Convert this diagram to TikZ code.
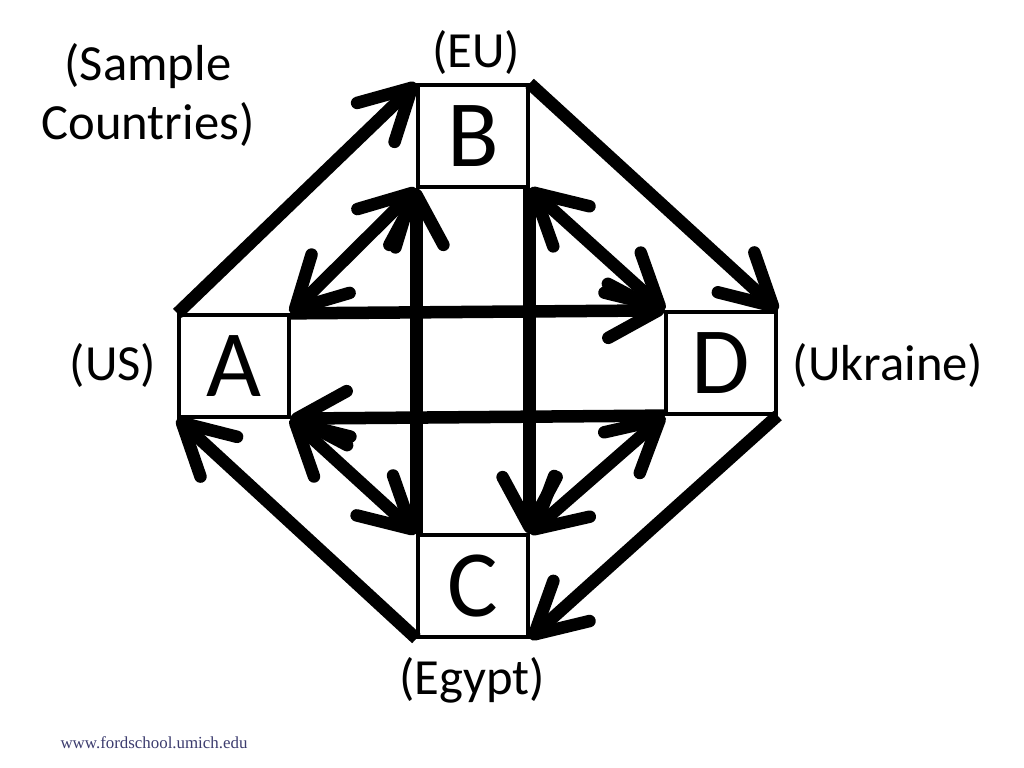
\documentclass[tikz,border=0pt]{standalone}
\usepackage{fontspec}
\setmainfont{Carlito}
\newfontfamily\footfont{Liberation Serif}
\usetikzlibrary{arrows.meta}
\definecolor{footblue}{RGB}{60,60,110}

\begin{document}
\begin{tikzpicture}[x=0.01cm, y=-0.01cm,
  countrybox/.style={draw=black, line width=0.9pt, minimum width=1.1cm, minimum height=1.02cm, inner sep=0pt, font=\fontsize{27}{32}\selectfont},
  countrylabel/.style={font=\fontsize{14.4}{17}\selectfont, align=center},
  tradeline/.style={line width=0.125cm, >={Straight Barb[length=0.5cm, width=0.54cm, round]}}]
\useasboundingbox (0,0) rectangle (1024,768);
\node[countrybox] at (234, 366) (A) {A};
\node[countrybox] at (473, 136) (B) {B};
\node[countrybox] at (473, 586) (C) {C};
\node[countrybox] at (721, 363) (D) {D};
%outer ring
\draw[tradeline, ->] (A.north west) -- (B.north west);
\draw[tradeline, ->] (B.north east) -- (D.north east);
\draw[tradeline, ->] (D.south east) -- (C.south east);
\draw[tradeline, ->] (C.south west) -- (A.south west);
%inner diagonals
\draw[tradeline, <->] (A.north east) -- (B.south west);
\draw[tradeline, <->] (B.south east) -- (D.north west);
\draw[tradeline, <->] (D.south west) -- (C.north east);
\draw[tradeline, <->] (A.south east) -- (C.north west);
%straight across
\draw[tradeline, ->] (A.north east) -- (D.north west);
\draw[tradeline, ->] (D.south west) -- (A.south east);
\draw[tradeline, ->] (C.north west) -- (B.south west);
\draw[tradeline, ->] (B.south east) -- (C.north east);
%labels
\node[countrylabel] at (148, 95) (sample) {(Sample\\Countries)};
\node[countrylabel] at (476, 53) (eu) {(EU)};
\node[countrylabel] at (113, 366) (us) {(US)};
\node[countrylabel] at (888, 366) (ukraine) {(Ukraine)};
\node[countrylabel] at (472, 680) (egypt) {(Egypt)};
\node[font=\footfont\fontsize{4.8}{6}\selectfont, text=footblue] at (154, 743) (web) {www.fordschool.umich.edu};
\end{tikzpicture}
\end{document}
